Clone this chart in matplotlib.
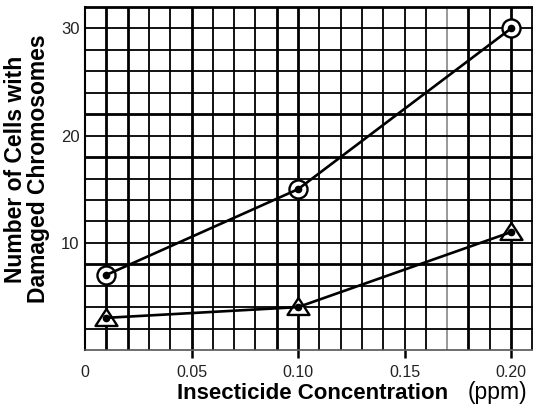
import matplotlib
matplotlib.use("Agg")
import matplotlib.pyplot as plt
import numpy as np

plt.rcParams['font.family'] = ['Liberation Sans', 'DejaVu Sans']

# Data
concentration = [0.01, 0.10, 0.20]
series_circle = [7, 15, 30]
series_triangle = [3, 4, 11]
xtick_vals = [0, 0.05, 0.10, 0.15, 0.20]
xtick_labels = ["0", "0.05", "0.10", "0.15", "0.20"]
ytick_vals = [10, 20, 30]
ytick_labels = ["10", "20", "30"]

fig = plt.figure(figsize=(5.33, 4.08), dpi=100)
ax = fig.add_axes([85/533, 58/408, 448/533, 343/408])
ax.set_xlim(0, 0.2103)
ax.set_ylim(0, 32)

# grid (graph paper)
thick_v = {1, 2, 5, 9, 10, 18, 20}
gray_v = {17}
for i in range(1, 22):
    x = i * 0.01
    if i in thick_v:
        lw, c = 2.0, 'black'
    elif i in gray_v:
        lw, c = 1.2, '#888888'
    else:
        lw, c = 1.3, 'black'
    ax.axvline(x, color=c, lw=lw, zorder=1)
thick_h = {18, 22, 8}
for j in range(2, 32, 2):
    lw = 2.0 if j in thick_h else 1.3
    ax.axhline(j, color='black', lw=lw, zorder=1)

ax.spines['right'].set_visible(False)
ax.spines['left'].set_linewidth(1.5)
ax.spines['top'].set_linewidth(2.0)
ax.spines['bottom'].set_color('#555555')
ax.spines['bottom'].set_linewidth(1.2)

# circle series
ax.plot(concentration, series_circle, 'o', ms=13, mfc='white', mec='black',
        mew=1.7, zorder=3, clip_on=False)
ax.plot(concentration, series_circle, '-', color='black', lw=1.9, zorder=4,
        clip_on=False)
ax.plot(concentration, series_circle, 'o', ms=4.5, color='black', zorder=5,
        clip_on=False)

# triangle series
tri = [(0, 9.5), (-11, -7.5), (11, -7.5), (0, 9.5)]
ax.plot(concentration, series_triangle, marker=tri, ls='none', ms=15.8,
        mfc='white', mec='black', mew=1.7, zorder=3, clip_on=False)
ax.plot(concentration, series_triangle, '-', color='black', lw=1.9, zorder=4,
        clip_on=False)
ax.plot(concentration, series_triangle, 'o', ms=4.5, color='black', zorder=5,
        clip_on=False)

ax.set_xticks(xtick_vals)
ax.set_xticklabels(xtick_labels)
ax.set_yticks(ytick_vals)
ax.set_yticklabels(ytick_labels)
ax.tick_params(axis='x', direction='out', length=5.8, width=1.8, pad=5,
               labelsize=11.5, colors='black')
ax.tick_params(axis='y', length=0, pad=4, labelsize=12)
ax.xaxis.get_major_ticks()[0].tick1line.set_visible(False)
for lab in ax.get_xticklabels() + ax.get_yticklabels():
    lab.set_color('#222222')

# axis labels
fig.text(16/533, 1 - 169/408, "Number of Cells with", rotation=90,
         ha='center', va='center', fontsize=16.5, fontweight='bold')
fig.text(39/533, 1 - 169/408, "Damaged Chromosomes", rotation=90,
         ha='center', va='center', fontsize=16.5, fontweight='bold')
fig.text(177/533, 1 - 399/408, "Insecticide Concentration",
         ha='left', va='baseline', fontsize=16, fontweight='bold')
fig.text(527/533, 1 - 399/408, "(ppm)", ha='right', va='baseline',
         fontsize=16.5)

fig.savefig("out.png", dpi=100)
